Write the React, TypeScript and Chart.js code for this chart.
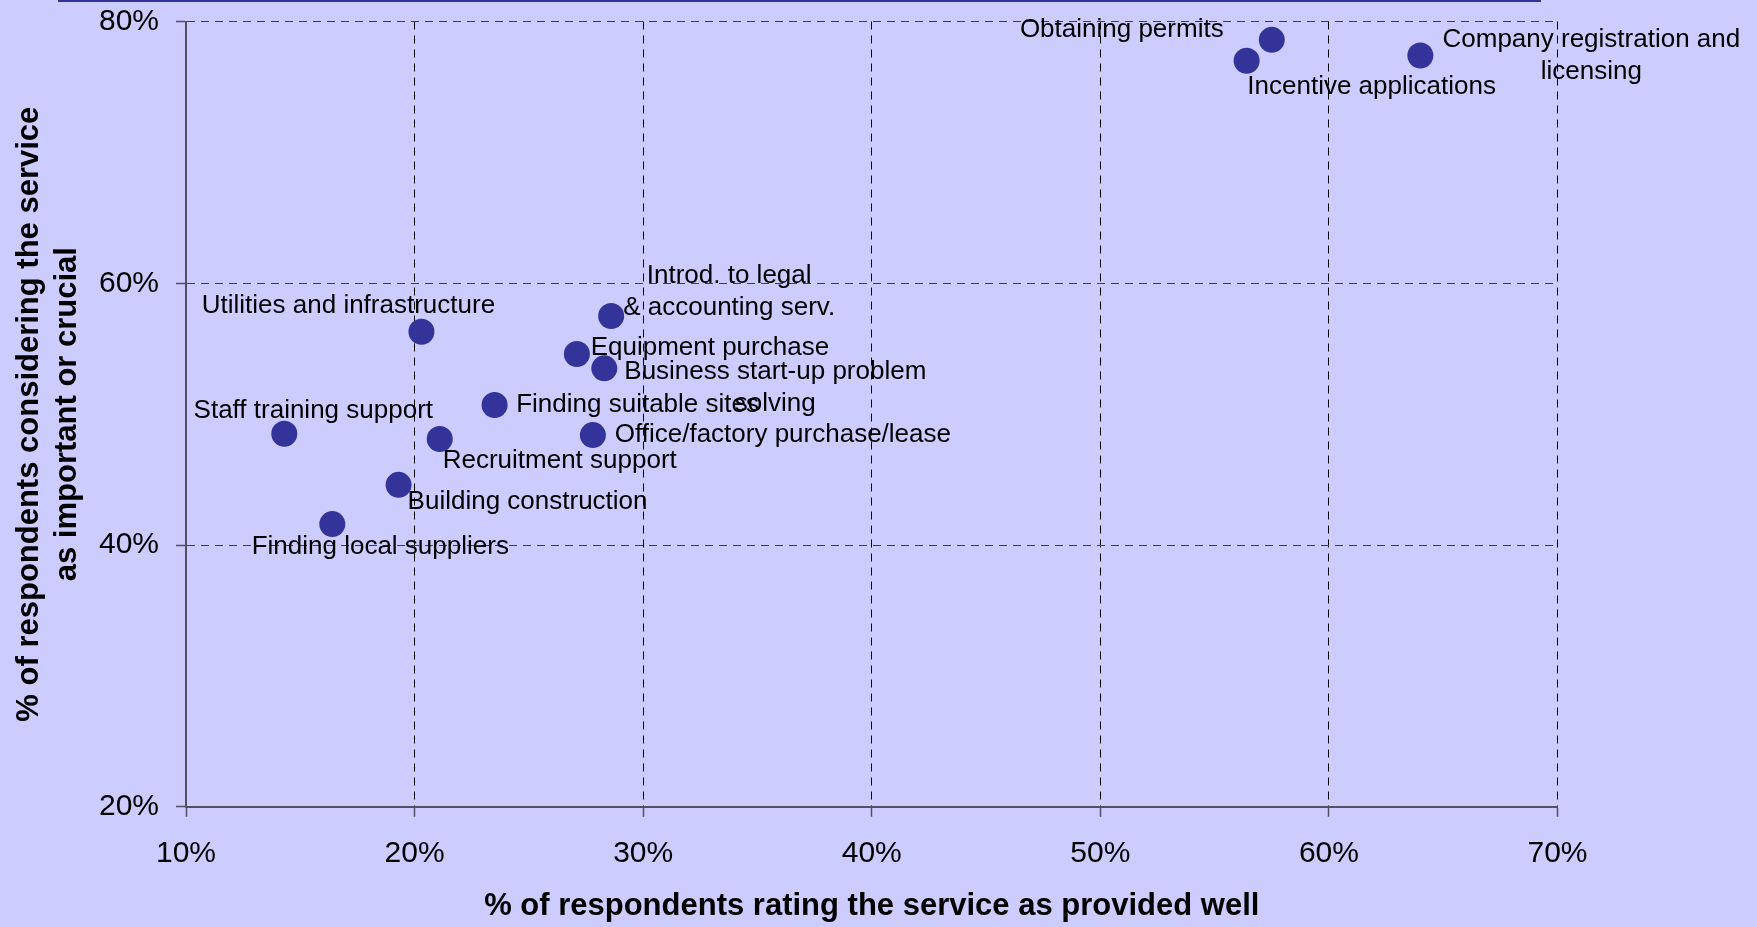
import React, { useEffect, useRef } from "react";
import { Chart, registerables } from "chart.js";

Chart.register(...registerables);

// ---- data ----
const services: string[] = [
  "Obtaining permits",
  "Incentive applications",
  "Company registration and\nlicensing",
  "Introd. to legal\n& accounting serv.",
  "Utilities and infrastructure",
  "Equipment purchase",
  "Business start-up problem\nsolving",
  "Finding suitable sites",
  "Staff training support",
  "Recruitment support",
  "Office/factory purchase/lease",
  "Building construction",
  "Finding local suppliers",
];
// % of respondents rating the service as provided well
const ratedWell: number[] = [57.5, 56.4, 64.0, 28.6, 20.3, 27.1, 28.3, 23.5, 14.3, 21.1, 27.8, 19.3, 16.4];
// % of respondents considering the service as important or crucial
const importance: number[] = [78.6, 77.0, 77.4, 57.5, 56.3, 54.6, 53.5, 50.7, 48.5, 48.1, 48.4, 44.6, 41.6];

const xTickValues: number[] = [10, 20, 30, 40, 50, 60, 70];
const yTickValues: number[] = [20, 40, 60, 80];

const xTitle = "% of respondents rating the service as provided well";
const yTitle = ["% of respondents considering the service", "as important or crucial"];

// label placement relative to its point (px): [dx, dy of first line centre]
const labelPlacement: [number, number][] = [
  [-150, -10],
  [125, 26],
  [171, -16],
  [118, -40],
  [-73, -26],
  [133, -6],
  [171, 3],
  [143, 0],
  [29, -23],
  [120, 22],
  [190, 0],
  [129, 17],
  [48, 23],
];

const FONT = '"Liberation Sans", Arial, Helvetica, sans-serif';
const BG = "#CCCCFF";
const NAVY = "#333399";
const W = 1757;
const H = 927;

const backgroundPlugin = {
  id: "bgAndTopLine",
  beforeDraw(chart: any) {
    const { ctx } = chart;
    ctx.save();
    ctx.fillStyle = BG;
    ctx.fillRect(0, 0, chart.width, chart.height);
    ctx.strokeStyle = NAVY;
    ctx.lineWidth = 2;
    ctx.beginPath();
    ctx.moveTo(58, 1);
    ctx.lineTo(1541, 1);
    ctx.stroke();
    ctx.restore();
  },
};

const labelPlugin = {
  id: "pointLabels",
  afterDatasetsDraw(chart: any) {
    const { ctx } = chart;
    const meta = chart.getDatasetMeta(0);
    ctx.save();
    ctx.font = `26px ${FONT}`;
    ctx.fillStyle = "#000000";
    ctx.textAlign = "center";
    ctx.textBaseline = "middle";
    meta.data.forEach((el: any, i: number) => {
      const [dx, dy] = labelPlacement[i];
      const lines = services[i].split("\n");
      lines.forEach((line, j) => {
        ctx.fillText(line, el.x + dx, el.y + dy + j * 32);
      });
    });
    ctx.restore();
  },
};

export default function App() {
  const ref = useRef<HTMLCanvasElement | null>(null);

  useEffect(() => {
    document.body.style.margin = "0";
    document.body.style.background = BG;
    const canvas = ref.current;
    if (!canvas) return;
    const chart = new Chart(canvas, {
      type: "scatter",
      data: {
        datasets: [
          {
            label: "Services",
            data: ratedWell.map((x, i) => ({ x, y: importance[i] })),
            pointRadius: 13,
            pointHoverRadius: 13,
            pointBackgroundColor: NAVY,
            pointBorderWidth: 0,
            backgroundColor: NAVY,
          },
        ],
      },
      options: {
        responsive: false,
        animation: false,
        devicePixelRatio: 1,
        layout: { padding: { left: 0, right: 199.5, top: 21.5, bottom: 0 } },
        plugins: {
          legend: { display: false },
          tooltip: { enabled: false },
          title: { display: false },
        },
        scales: {
          x: {
            type: "linear",
            min: xTickValues[0],
            max: xTickValues[xTickValues.length - 1],
            afterBuildTicks: (scale: any) => {
              scale.ticks = xTickValues.map((v) => ({ value: v }));
            },
            afterFit: (scale: any) => {
              scale.height = 120.2;
            },
            ticks: {
              callback: (v: any) => `${v}%`,
              font: { family: FONT, size: 30 },
              color: "#000000",
              padding: 19,
              maxRotation: 0,
            },
            grid: {
              color: "#000000",
              lineWidth: 1,
              tickLength: 10,
              tickColor: "#505060",
              tickWidth: 1.5,
            },
            border: { display: true, color: "#505060", width: 2, dash: [8, 6] },
            title: {
              display: true,
              text: xTitle,
              font: { family: FONT, size: 31, weight: "bold" },
              color: "#000000",
              padding: { top: 0, bottom: 2 },
            },
          },
          y: {
            type: "linear",
            min: yTickValues[0],
            max: yTickValues[yTickValues.length - 1],
            afterBuildTicks: (scale: any) => {
              scale.ticks = yTickValues.map((v) => ({ value: v }));
            },
            afterFit: (scale: any) => {
              scale.width = 186;
              scale.paddingTop = 0;
              scale.paddingBottom = 0;
            },
            ticks: {
              callback: (v: any) => `${v}%`,
              font: { family: FONT, size: 30 },
              color: "#000000",
              padding: 17,
            },
            grid: {
              color: NAVY,
              lineWidth: 1,
              tickLength: 10,
              tickColor: "#505060",
              tickWidth: 1.5,
            },
            border: { display: true, color: "#505060", width: 2, dash: [8, 6] },
            title: {
              display: true,
              text: yTitle,
              font: { family: FONT, size: 31, weight: "bold", lineHeight: 1.23 },
              color: "#000000",
              padding: { top: 10, bottom: 0 },
            },
          },
        },
      },
      plugins: [backgroundPlugin, labelPlugin],
    } as any);
    return () => chart.destroy();
  }, []);

  return (
    <div style={{ width: W, height: H, background: BG }}>
      <canvas ref={ref} width={W} height={H} style={{ display: "block", width: W, height: H }} />
    </div>
  );
}
